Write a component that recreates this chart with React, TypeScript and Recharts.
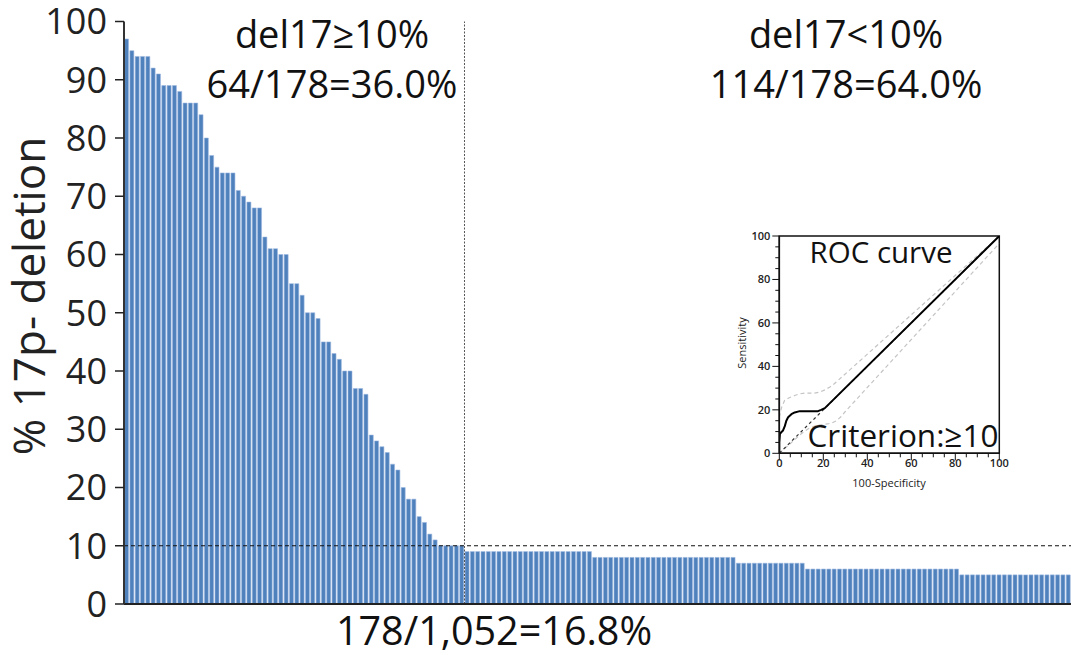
import React from 'react';
import {
  BarChart, Bar, XAxis, YAxis, ReferenceLine, LineChart, Line, ReferenceArea,
} from 'recharts';

// ---- Main chart data ----
const highValues: number[] = [
  97, 95, 94, 94, 94, 92, 91, 89, 89, 89, 88, 86, 86, 86, 84, 80, 77, 75, 74, 74,
  74, 71, 70, 69, 68, 68, 63, 61, 61, 60, 60, 55, 55, 53, 50, 50, 49, 45, 45, 43,
  42, 40, 40, 37, 37, 36, 29, 28, 27, 26, 24, 23, 20, 18, 18, 15, 14, 12, 11, 10,
  10, 10, 10, 10,
];
const lowValues: number[] = [
  9, 9, 9, 9, 9, 9, 9, 9, 9, 9, 9, 9, 9, 9, 9, 9, 9, 9, 9, 9, 9, 9, 9, 9,
  8, 8, 8, 8, 8, 8, 8, 8, 8, 8, 8, 8, 8, 8, 8, 8, 8, 8, 8, 8, 8, 8, 8, 8, 8, 8, 8,
  7, 7, 7, 7, 7, 7, 7, 7, 7, 7, 7, 7, 7,
  6, 6, 6, 6, 6, 6, 6, 6, 6, 6, 6, 6, 6, 6, 6, 6, 6, 6, 6, 6, 6, 6, 6, 6, 6, 6, 6, 6, 6,
  5, 5, 5, 5, 5, 5, 5, 5, 5, 5, 5, 5, 5, 5, 5, 5, 5, 5, 5, 5, 5,
];
const yTicks: number[] = [0, 10, 20, 30, 40, 50, 60, 70, 80, 90, 100];
const threshold = 10;

const barData = [...highValues, ...lowValues].map((v, i) => ({ idx: i + 1, value: v }));
const splitIndex = highValues.length + 1;

// ---- ROC inset data ----
const rocX: number[] = [0, 0, 0.3, 1, 1.7, 2.5, 3.2, 4, 5.5, 7, 9.3, 13, 17.6, 19, 20.7, 100];
const rocY: number[] = [0, 5, 9, 9.8, 10.5, 12.5, 15, 16.6, 18, 18.8, 19.4, 19.4, 19.4, 20, 20.8, 100];
const upperX: number[] = [0, 1, 2.4, 4.5, 7, 9, 11.6, 16, 18.5, 20.7, 23, 25, 100];
const upperY: number[] = [16.6, 21, 24.3, 25.6, 26.6, 27.3, 27.7, 27.7, 28.2, 29.2, 30.5, 32, 100];
const lowerX: number[] = [0, 5, 10, 13, 15.5, 17.6, 22, 24, 26, 28, 29.8, 100];
const lowerY: number[] = [0, 4.5, 9, 11.2, 12.3, 13, 13.5, 14, 15, 16.8, 19, 96.6];
const diagX: number[] = [0, 100];
const diagY: number[] = [0, 100];
const insetTicks: number[] = [0, 5, 10, 15, 20, 25, 30, 35, 40, 45, 50, 55, 60, 65, 70, 75, 80, 85, 90, 95, 100];

const toPts = (xs: number[], ys: number[]) => xs.map((x, i) => ({ x, y: ys[i] }));
const rocData = toPts(rocX, rocY);
const upperData = toPts(upperX, upperY);
const lowerData = toPts(lowerX, lowerY);
const diagData = toPts(diagX, diagY);

const FONT = '"Open Sans", "Noto Sans", sans-serif';

const InsetYTick = (props: any) => {
  const { x, y, payload } = props;
  const major = payload.value % 20 === 0;
  return (
    <g>
      <line x1={x - (major ? 7 : 4)} x2={x} y1={y} y2={y} stroke="#111" strokeWidth={1} />
      {major && (
        <text x={x - 9} y={y} dy={4} textAnchor="end" fontSize={11} fontWeight={600}
          fontFamily={FONT} fill="#222">{payload.value}</text>
      )}
    </g>
  );
};

const InsetXTick = (props: any) => {
  const { x, y, payload } = props;
  const major = payload.value % 20 === 0;
  return (
    <g>
      <line x1={x} x2={x} y1={y} y2={y + (major ? 7 : 4)} stroke="#111" strokeWidth={1} />
      {major && (
        <text x={x} y={y + 14} textAnchor="middle" fontSize={11} fontWeight={600}
          fontFamily={FONT} fill="#222">{payload.value}</text>
      )}
    </g>
  );
};

export default function App() {
  return (
    <div style={{ position: 'absolute', left: 0, top: 0, width: 1071, height: 655, background: '#fff' }}>
      <div style={{ position: 'absolute', left: 0, top: 0 }}>
        <BarChart width={1071} height={655} data={barData}
          margin={{ top: 21.5, right: 0, bottom: 0, left: 0 }} barCategoryGap={0.55}>
          <XAxis dataKey="idx" tick={false} tickLine={false} height={51}
            axisLine={{ stroke: '#222', strokeWidth: 2 }} />
          <YAxis domain={[0, 100]} ticks={yTicks} width={124} interval={0}
            tickSize={9} tickMargin={8}
            tick={{ fontSize: 36, fontFamily: FONT, fill: '#222' }}
            tickLine={{ stroke: '#222', strokeWidth: 1.5 }}
            axisLine={{ stroke: '#333', strokeWidth: 2 }} />
          <Bar dataKey="value" fill="#4F81BD" stroke="#9DB9E0" strokeWidth={0.6}
            isAnimationActive={false} />
          <ReferenceLine y={threshold} stroke="#111" strokeWidth={1.2} strokeDasharray="4 3" />
          <ReferenceLine x={splitIndex} position="start" stroke="#555" strokeWidth={1}
            strokeDasharray="2 1.5" />
        </BarChart>
      </div>

      <div style={{ position: 'absolute', left: 725, top: 222 }}>
        <LineChart width={285} height={278} margin={{ top: 14, right: 10.7, bottom: 0, left: 0 }}>
          <XAxis type="number" dataKey="x" domain={[0, 100]} ticks={insetTicks} interval={0}
            allowDataOverflow height={46.7} tickSize={0} tickMargin={0} tickLine={false}
            tick={<InsetXTick />} axisLine={{ stroke: '#111', strokeWidth: 1.5 }} />
          <YAxis type="number" dataKey="y" domain={[0, 100]} ticks={insetTicks} interval={0}
            allowDataOverflow width={54.3} tickSize={0} tickMargin={0} tickLine={false}
            tick={<InsetYTick />} axisLine={{ stroke: '#111', strokeWidth: 1.5 }} />
          <ReferenceArea x1={0} x2={100} y1={0} y2={100} fill="none" stroke="#111"
            strokeWidth={1.5} fillOpacity={0} />
          <Line data={upperData} dataKey="y" type="linear" stroke="#c4c4c4" strokeWidth={1.2}
            strokeDasharray="4 3" dot={false} isAnimationActive={false} />
          <Line data={lowerData} dataKey="y" type="linear" stroke="#c4c4c4" strokeWidth={1.2}
            strokeDasharray="4 3" dot={false} isAnimationActive={false} />
          <Line data={diagData} dataKey="y" type="linear" stroke="#333" strokeWidth={1.2}
            strokeDasharray="3 3" dot={false} isAnimationActive={false} />
          <Line data={rocData} dataKey="y" type="linear" stroke="#000" strokeWidth={2}
            strokeLinejoin="round" dot={false} isAnimationActive={false} />
        </LineChart>
      </div>

      <svg width={1071} height={655} style={{ position: 'absolute', left: 0, top: 0, pointerEvents: 'none' }}
        fontFamily={FONT}>
        <text x={332} y={48} textAnchor="middle" fontSize={38} fill="#111">del17≥10%</text>
        <text x={332} y={98} textAnchor="middle" fontSize={38} fill="#111">64/178=36.0%</text>
        <text x={846} y={48} textAnchor="middle" fontSize={38} fill="#111">del17&lt;10%</text>
        <text x={846} y={98} textAnchor="middle" fontSize={38} fill="#111">114/178=64.0%</text>
        <text x={494} y={645} textAnchor="middle" fontSize={39.5} fill="#111">178/1,052=16.8%</text>
        <text transform="translate(45,296) rotate(-90)" textAnchor="middle" fontSize={44} fill="#222">% 17p- deletion</text>
        <text x={881} y={263} textAnchor="middle" fontSize={29.5} fill="#111">ROC curve</text>
        <text x={903} y={447} textAnchor="middle" fontSize={31.5} fill="#111">Criterion:≥10</text>
        <text transform="translate(746,343) rotate(-90)" textAnchor="middle" fontSize={11} fill="#222">Sensitivity</text>
        <text x={889} y={487} textAnchor="middle" fontSize={11} fill="#222">100-Specificity</text>
      </svg>
    </div>
  );
}
